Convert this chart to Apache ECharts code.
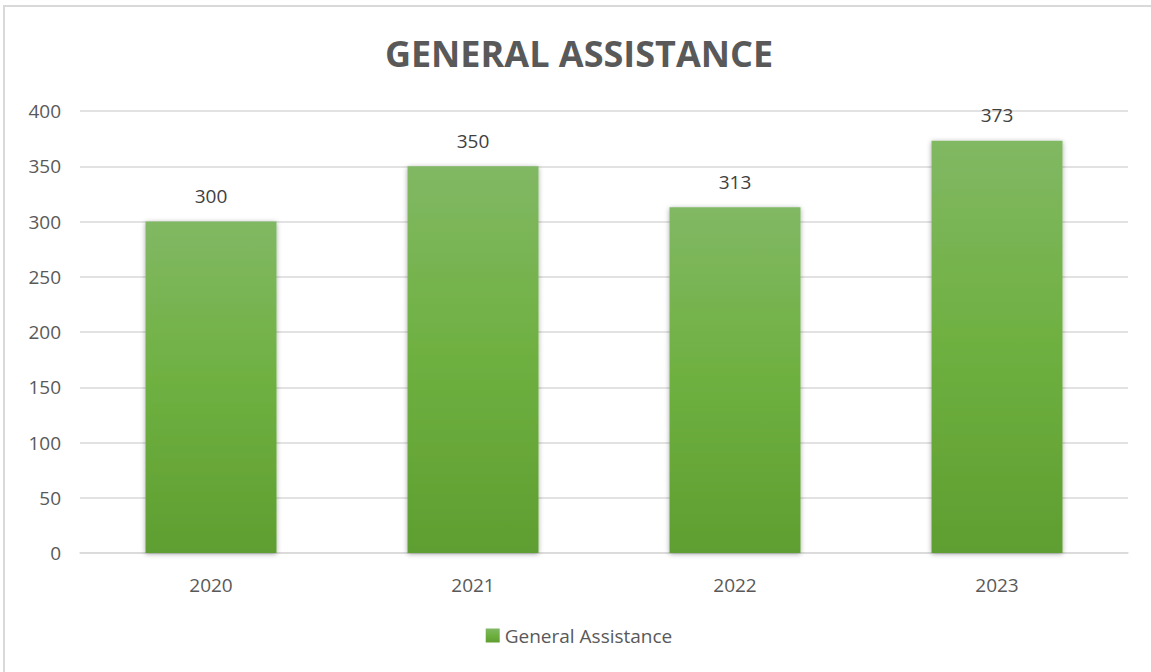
<!DOCTYPE html>
<html>
<head>
<meta charset="utf-8">
<script src="https://cdn.jsdelivr.net/npm/echarts@6/dist/echarts.min.js"></script>
<style>
  html, body { margin: 0; padding: 0; background: #fff; }
  #chart { position: absolute; left: 3px; top: 5px; width: 1148px; height: 667px; border-left: 2px solid #d9d9d9; border-top: 2px solid #d9d9d9; }
</style>
</head>
<body>
<div id="chart"></div>
<script>
var years = ['2020', '2021', '2022', '2023'];
var assistance = [300, 350, 313, 373];
var yTicks = [0, 400, 50];

var chart = echarts.init(document.getElementById('chart'), null, {renderer: 'svg'});
var font = '"Open Sans", "Noto Sans", sans-serif';

var option = {
    animation: false,
    title: {
        text: 'GENERAL ASSISTANCE',
        left: 'center',
        top: 23,
        textStyle: {fontFamily: font, fontSize: 36, fontWeight: 'bold', color: '#595959'}
    },
    legend: {
        bottom: 24,
        left: 'center',
        itemWidth: 14,
        itemHeight: 14,
        itemGap: 6,
        icon: 'rect',
        textStyle: {fontFamily: font, fontSize: 19, color: '#595959'},
        data: ['General Assistance']
    },
    grid: {left: 75, right: 25, top: 104, bottom: 121},
    xAxis: {
        type: 'category',
        data: years,
        axisTick: {show: false},
        axisLine: {lineStyle: {color: '#d9d9d9', width: 1.5}},
        axisLabel: {fontFamily: font, fontSize: 19, color: '#595959', margin: 22}
    },
    yAxis: {
        type: 'value',
        min: yTicks[0],
        max: yTicks[1],
        interval: yTicks[2],
        axisLine: {show: false},
        axisTick: {show: false},
        splitLine: {lineStyle: {color: '#d9d9d9', width: 1.5}},
        axisLabel: {fontFamily: font, fontSize: 19, color: '#595959', margin: 19}
    },
    series: [{
        name: 'General Assistance',
        type: 'bar',
        data: assistance,
        barWidth: '50%',
        label: {show: true, position: 'top', distance: 16, fontFamily: font, fontSize: 19, color: '#404040'},
        itemStyle: {
            color: new echarts.graphic.LinearGradient(0, 0, 0, 1, [
                {offset: 0, color: '#81b863'},
                {offset: 0.5, color: '#6eb040'},
                {offset: 1, color: '#5f9e31'}
            ]),
            shadowColor: 'rgba(0,0,0,0.35)',
            shadowBlur: 5,
            shadowOffsetY: 1
        }
    }]
};
chart.setOption(option);
</script>
</body>
</html>
